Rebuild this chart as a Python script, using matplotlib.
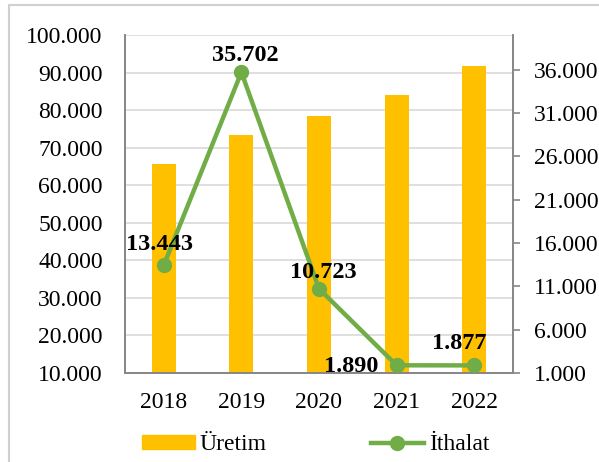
import matplotlib.pyplot as plt
from matplotlib.patches import Rectangle
from matplotlib.lines import Line2D
from matplotlib.ticker import FuncFormatter

years = ["2018", "2019", "2020", "2021", "2022"]
uretim = [65700, 73500, 78500, 84000, 91800]
ithalat = [13443, 35702, 10723, 1890, 1877]
ithalat_labels = ["13.443", "35.702", "10.723", "1.890", "1.877"]

plt.rcParams['font.family'] = ['Liberation Serif', 'DejaVu Serif']

bar_color = '#FFC000'
line_color = '#70AD47'
axis_gray = '#868686'
grid_gray = '#D9D9D9'


def dotted(v, pos):
    return f"{int(round(v)):,}".replace(",", ".")


fig = plt.figure(figsize=(5.99, 4.62), dpi=100)
# light frame around the chart (cut off at right/bottom)
fig.patches.append(Rectangle((9 / 599, -0.1), 1.2, 1.1 - 5 / 462,
                             transform=fig.transFigure, fill=False,
                             edgecolor='#D0D0D0', linewidth=1.5))

ax = fig.add_axes([125 / 599, 89 / 462, 388 / 599, 338 / 462])
x = range(len(years))
ax.bar(x, uretim, width=0.31, color=bar_color, zorder=2)
ax.set_ylim(10000, 100000)
ax.set_yticks(range(10000, 100001, 10000))
ax.yaxis.set_major_formatter(FuncFormatter(dotted))
ax.set_xlim(-0.5, 4.5)
ax.set_xticks(list(x))
ax.set_xticklabels(years)
ax.grid(axis='y', color=grid_gray, linewidth=1.2, zorder=0)
ax.set_axisbelow(True)
ax.tick_params(axis='y', length=0, pad=16, labelsize=17)
ax.tick_params(axis='x', length=0, pad=14, labelsize=17)
ax.spines['top'].set_visible(False)
for s in ['left', 'bottom', 'right']:
    ax.spines[s].set_color(axis_gray)
    ax.spines[s].set_linewidth(1.2)

ax2 = ax.twinx()
ax2.plot(list(x), ithalat, color=line_color, linewidth=3.2, marker='o',
         markersize=10, zorder=3)
ax2.set_ylim(1000, 40000)
ax2.set_yticks(range(1000, 36001, 5000))
ax2.yaxis.set_major_formatter(FuncFormatter(dotted))
ax2.tick_params(axis='y', length=5, width=1.2, color=axis_gray, pad=10,
                labelsize=17)
ax2.spines['top'].set_visible(False)
for s in ['left', 'bottom', 'right']:
    ax2.spines[s].set_color(axis_gray)
    ax2.spines[s].set_linewidth(1.2)

offsets = [(-3, 15), (3, 12), (3, 12), (-33, -1), (-11, 16)]
for i, (v, lab) in enumerate(zip(ithalat, ithalat_labels)):
    ax2.annotate(lab, (i, v), xytext=offsets[i], textcoords='offset points',
                 ha='center', va='center', fontsize=17.5, fontweight='bold')

handles = [Rectangle((0, 0), 1, 1, color=bar_color),
           Line2D([0], [0], color=line_color, linewidth=3.2, marker='o',
                  markersize=10)]
fig.legend(handles, ["Üretim", "İthalat"], loc='center',
           bbox_to_anchor=(315.5 / 599, 17 / 462), ncol=2, frameon=False,
           fontsize=17, handlelength=2.25, handleheight=0.5,
           handletextpad=0.22, columnspacing=4.4)

fig.savefig("out.png", dpi=100)
